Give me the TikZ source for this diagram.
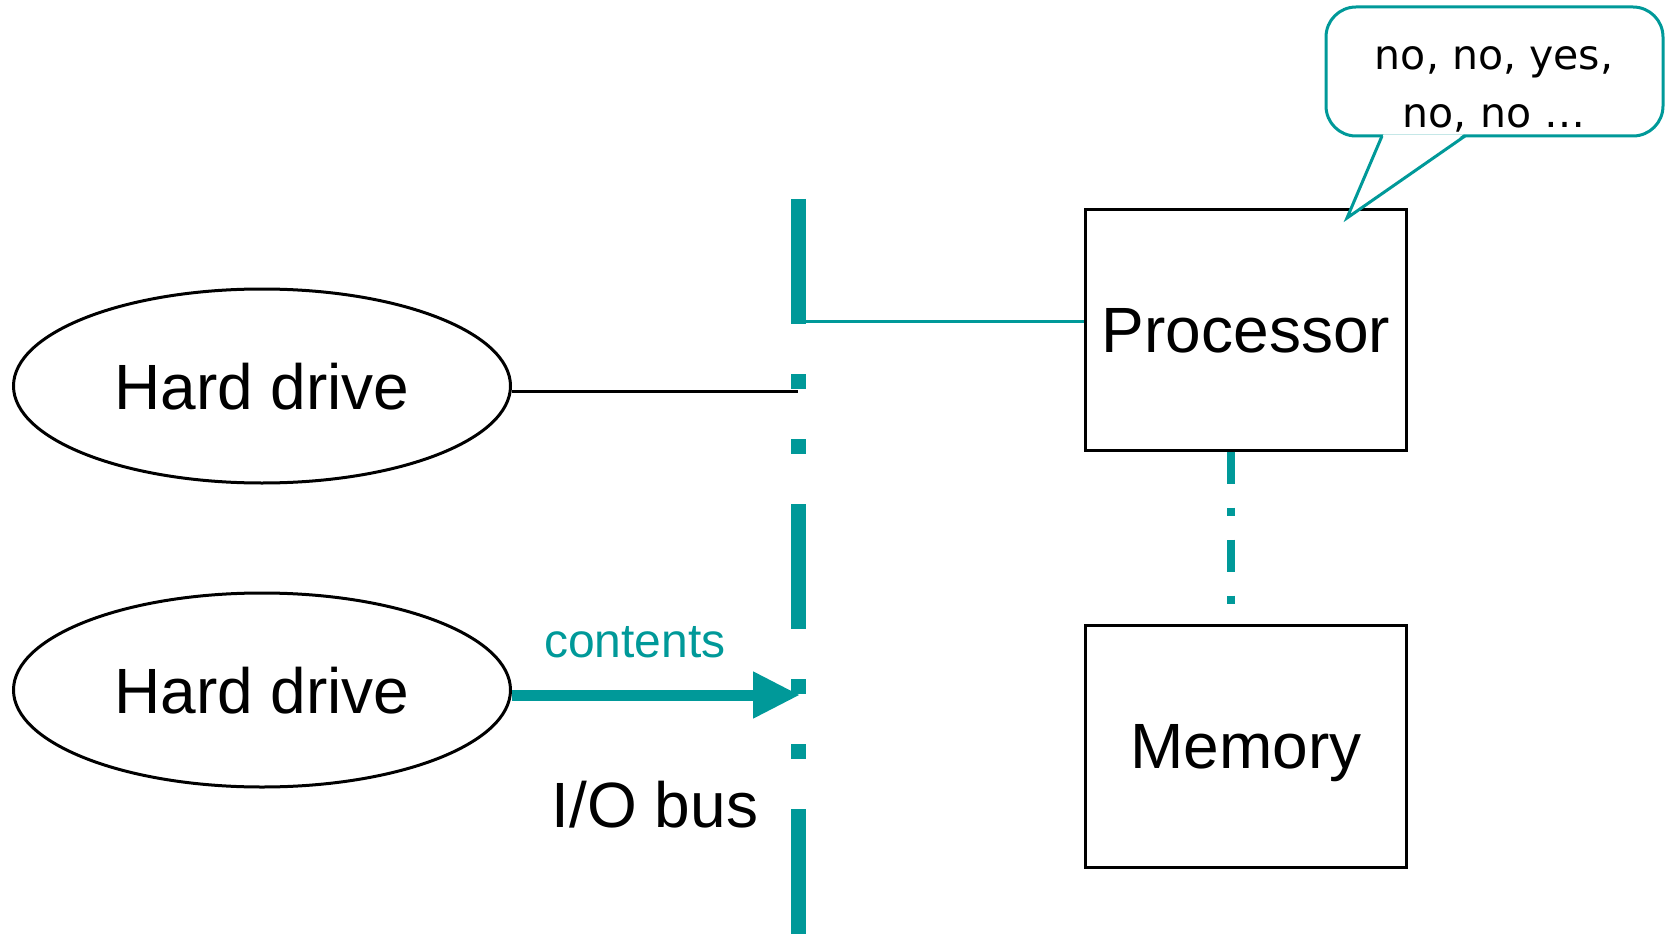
\documentclass[tikz,border=0pt]{standalone}
\usepackage{fontspec}
\setmainfont{Liberation Sans}
\newfontfamily\callfont{DejaVu Sans}
\usetikzlibrary{shapes.geometric,arrows.meta}
\definecolor{tealc}{RGB}{0,153,153}
\begin{document}
\begin{tikzpicture}[x=1pt,y=-1pt,
  bigtext/.style={font=\fontsize{64}{77}\selectfont},
  drive/.style={ellipse,draw=black,line width=3pt,minimum width=497pt,minimum height=194pt,inner sep=0pt,bigtext,text depth=0pt},
  unit/.style={rectangle,draw=black,line width=3pt,minimum width=321pt,inner sep=0pt,bigtext,text depth=0pt},
  busline/.style={draw=tealc,line width=15pt,dash pattern=on 125pt off 50pt on 15pt off 50pt on 15pt off 50pt},
  memline/.style={draw=tealc,line width=8pt,dash pattern=on 32pt off 24pt on 8pt off 24pt},
  thinteal/.style={draw=tealc,line width=3pt},
  thinblack/.style={draw=black,line width=3pt},
  flow/.style={draw=tealc,line width=11pt,-{Triangle[length=47pt,width=44pt]}},
  callbox/.style={rectangle,draw=tealc,line width=3pt,rounded corners=30pt,fill=white,minimum width=337pt,minimum height=129pt,inner sep=0pt},
  calltext/.style={font=\callfont\fontsize{41}{58}\selectfont,align=center,inner sep=0pt},
]
\useasboundingbox (0,0) rectangle (1668,936);

% nodes
\node[drive] (hd1) at (262,386) {Hard drive};
\node[drive] (hd2) at (262,690) {Hard drive};
\node[unit,minimum height=240pt] (proc) at (1246,330) {Processor};
\node[unit,minimum height=242pt] (mem) at (1246,746) {Memory};

% bus
\coordinate (bustop) at (798,199);
\coordinate (busbot) at (798,936);
\coordinate (b1) at (798,391);
\coordinate (bp) at (798,321);
\coordinate (a2) at (800,695);

\draw[thinteal] (bp) -- (bp -| proc.west);
\draw[thinblack] (hd1.east |- b1) -- (b1);
\draw[flow] (hd2.east |- a2) -- (a2);
\draw[busline] (bustop) -- (busbot);
\draw[memline] ([xshift=-15pt]proc.south) -- ([xshift=-15pt]mem.north);

\node[anchor=base,text=tealc,font=\fontsize{48}{58}\selectfont] (contents) at (635,657) {contents};
\node[anchor=base,bigtext] (iobus) at (655,827) {I/O bus};

% callout
\node[callbox] (call) at (1494.5,71.5) {};
\coordinate (tl) at (1382,136);
\coordinate (tr) at (1465,136);
\coordinate (ctip) at (1347,218);
\fill[white] ([xshift=1.5pt,yshift=1.6pt]tl) -- (ctip) -- ([xshift=-1.5pt,yshift=1.6pt]tr) -- cycle;
\draw[thinteal,line join=miter] (tl) -- (ctip) -- (tr);
\node[calltext] (ctext) at (1494,89) {no, no, yes,\\no, no …};
\end{tikzpicture}
\end{document}
